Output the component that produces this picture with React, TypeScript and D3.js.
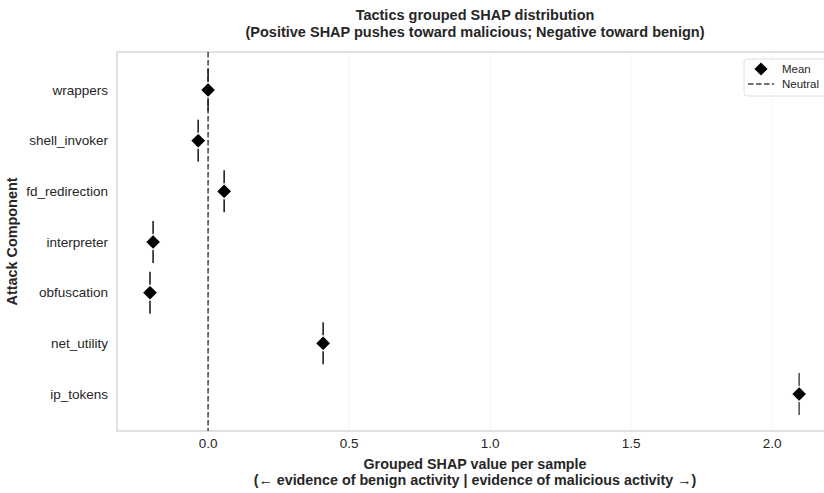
import * as d3 from "d3";
import { useEffect, useRef } from "react";

// components (top to bottom) and their mean grouped SHAP values
const components = [
  "wrappers",
  "shell_invoker",
  "fd_redirection",
  "interpreter",
  "obfuscation",
  "net_utility",
  "ip_tokens",
];
const meanShap = [0.0, -0.035, 0.057, -0.195, -0.206, 0.408, 2.096];
const xTicks = [0.0, 0.5, 1.0, 1.5, 2.0];
const titleLines = [
  "Tactics grouped SHAP distribution",
  "(Positive SHAP pushes toward malicious; Negative toward benign)",
];
const xLabelLines = [
  "Grouped SHAP value per sample",
  "(\u2190 evidence of benign activity | evidence of malicious activity \u2192)",
];

export default function App() {
  const ref = useRef<SVGSVGElement>(null);

  useEffect(() => {
    document.body.style.margin = "0";
    const width = 824;
    const height = 493;
    const margin = { top: 52, right: -10, bottom: 62, left: 117 };
    const font = "'Liberation Sans', Arial, sans-serif";

    const svg = d3.select(ref.current);
    svg.selectAll("*").remove();

    const x = d3
      .scaleLinear()
      .domain([-0.323, 2.2])
      .range([margin.left, margin.left + (2.2 + 0.323) * 282]);
    // categorical positions, matplotlib-style margins
    const y = d3
      .scaleLinear()
      .domain([-0.75, 6.73])
      .range([margin.top, height - margin.bottom]);

    const top = margin.top;
    const bottom = height - margin.bottom;

    // grid
    svg
      .append("g")
      .selectAll("line")
      .data(xTicks)
      .join("line")
      .attr("x1", (d) => x(d))
      .attr("x2", (d) => x(d))
      .attr("y1", top)
      .attr("y2", bottom)
      .attr("stroke", "#e6e6e6")
      .attr("stroke-width", 0.8)
      .attr("stroke-dasharray", "1,1");

    // spines
    svg
      .append("rect")
      .attr("x", margin.left)
      .attr("y", top)
      .attr("width", width - margin.left + 20)
      .attr("height", bottom - top)
      .attr("fill", "none")
      .attr("stroke", "#cccccc")
      .attr("stroke-width", 1.2);

    // neutral line
    svg
      .append("line")
      .attr("x1", x(0))
      .attr("x2", x(0))
      .attr("y1", top)
      .attr("y2", bottom)
      .attr("stroke", "#444")
      .attr("stroke-width", 1.5)
      .attr("stroke-dasharray", "5.5,2.5");

    // sample spread markers
    const rows = svg
      .append("g")
      .selectAll("g")
      .data(meanShap)
      .join("g")
      .attr("transform", (d, i) => `translate(${x(d)},${y(i)})`);

    rows
      .append("line")
      .attr("y1", -21)
      .attr("y2", 21)
      .attr("stroke", (d, i) => (i === 6 ? "#555" : "#222"))
      .attr("stroke-width", 1.6);

    rows
      .append("path")
      .attr("d", d3.symbol(d3.symbolDiamond2, 150)())
      .attr("fill", "#000")
      .attr("stroke", "#fff")
      .attr("stroke-width", 1.2);

    // y tick labels
    svg
      .append("g")
      .selectAll("text")
      .data(components)
      .join("text")
      .attr("x", 108)
      .attr("y", (d, i) => y(i))
      .attr("dy", "0.35em")
      .attr("text-anchor", "end")
      .attr("fill", "#262626")
      .style("font-family", font)
      .style("font-size", "13.5px")
      .text((d) => d);

    // x tick labels
    svg
      .append("g")
      .selectAll("text")
      .data(xTicks)
      .join("text")
      .attr("x", (d) => x(d))
      .attr("y", 448)
      .attr("text-anchor", "middle")
      .attr("fill", "#262626")
      .style("font-family", font)
      .style("font-size", "13.5px")
      .text((d) => d.toFixed(1));

    // title
    svg
      .append("g")
      .selectAll("text")
      .data(titleLines)
      .join("text")
      .attr("x", 475)
      .attr("y", (d, i) => 20 + i * 17)
      .attr("text-anchor", "middle")
      .attr("fill", "#262626")
      .style("font-family", font)
      .style("font-size", "14.5px")
      .style("font-weight", "bold")
      .text((d) => d);

    // x label
    svg
      .append("g")
      .selectAll("text")
      .data(xLabelLines)
      .join("text")
      .attr("x", 475)
      .attr("y", (d, i) => 469 + i * 16)
      .attr("text-anchor", "middle")
      .attr("fill", "#262626")
      .style("font-family", font)
      .style("font-size", "14.3px")
      .style("font-weight", "bold")
      .text((d) => d);

    // y label
    svg
      .append("text")
      .attr("transform", `translate(17,${(top + bottom) / 2}) rotate(-90)`)
      .attr("text-anchor", "middle")
      .attr("fill", "#262626")
      .style("font-family", font)
      .style("font-size", "14.4px")
      .style("font-weight", "bold")
      .text("Attack Component");

    // legend
    const lg = svg.append("g").attr("transform", "translate(744,59)");
    lg.append("rect")
      .attr("width", 90)
      .attr("height", 37)
      .attr("rx", 3)
      .attr("fill", "#fff")
      .attr("fill-opacity", 0.8)
      .attr("stroke", "#d5d5d5")
      .attr("stroke-width", 0.8);
    lg.append("path")
      .attr("transform", "translate(17,10)")
      .attr("d", d3.symbol(d3.symbolDiamond2, 110)())
      .attr("fill", "#000");
    lg.append("line")
      .attr("x1", 4)
      .attr("x2", 30)
      .attr("y1", 25)
      .attr("y2", 25)
      .attr("stroke", "#444")
      .attr("stroke-width", 1.5)
      .attr("stroke-dasharray", "5.5,2.5");
    lg.selectAll("text.lt")
      .data(["Mean", "Neutral"])
      .join("text")
      .attr("class", "lt")
      .attr("x", 38)
      .attr("y", (d, i) => 10 + i * 15)
      .attr("dy", "0.35em")
      .attr("fill", "#262626")
      .style("font-family", font)
      .style("font-size", "11.5px")
      .text((d) => d);
  }, []);

  return <svg ref={ref} width={824} height={493} style={{ display: "block" }} />;
}
